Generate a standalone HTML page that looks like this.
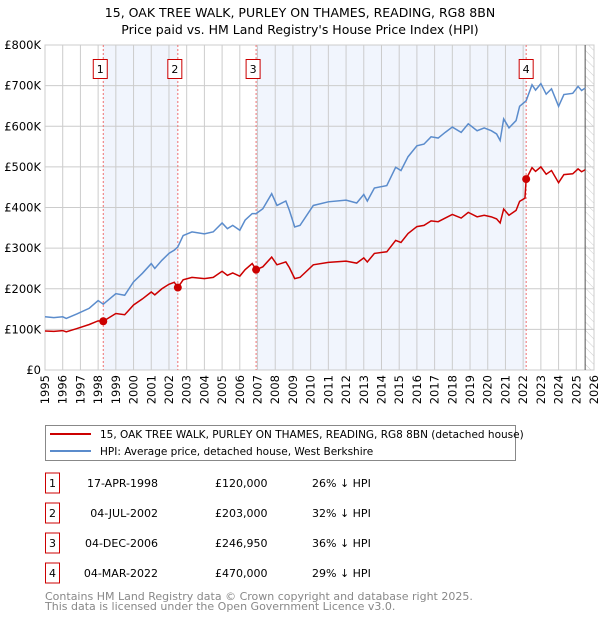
<!DOCTYPE html>
<html><head><meta charset="utf-8"><style>
body{margin:0;background:#fff;width:600px;height:620px;overflow:hidden}
text{font-family:"DejaVu Sans","Liberation Sans",sans-serif}
</style></head><body>
<svg id="c" width="600" height="620" xmlns="http://www.w3.org/2000/svg">
<defs><pattern id="hatch" width="6" height="6" patternUnits="userSpaceOnUse" patternTransform="rotate(-45)"><line x1="0" y1="0" x2="0" y2="6" stroke="#ccc" stroke-width="1"/></pattern></defs>
<text x="300" y="17" text-anchor="middle" font-size="12.5">15, OAK TREE WALK, PURLEY ON THAMES, READING, RG8 8BN</text>
<text x="300" y="34" text-anchor="middle" font-size="12.5">Price paid vs. HM Land Registry's House Price Index (HPI)</text>
<g id="plot"></g>
<g>
<rect x="45.5" y="425.5" width="470" height="35" fill="#fff" stroke="#888"/>
<line x1="50" y1="434" x2="91" y2="434" stroke="#cc0000" stroke-width="2"/>
<text x="100" y="438" font-size="10.5">15, OAK TREE WALK, PURLEY ON THAMES, READING, RG8 8BN (detached house)</text>
<line x1="50" y1="451" x2="91" y2="451" stroke="#5b8ccc" stroke-width="2"/>
<text x="100" y="455" font-size="10.5">HPI: Average price, detached house, West Berkshire</text>
</g>
<g id="table" font-size="11"></g>
<text x="45" y="600" font-size="11" fill="#888">Contains HM Land Registry data © Crown copyright and database right 2025.</text>
<text x="45" y="610" font-size="11" fill="#888">This data is licensed under the Open Government Licence v3.0.</text>
</svg>
<script>
const dates=[1995.0,1995.5,1996.0,1996.2,1996.8,1997.5,1998.0,1998.29,1999.0,1999.5,2000.0,2000.5,2001.0,2001.2,2001.6,2002.0,2002.3,2002.5,2002.8,2003.3,2004.0,2004.5,2005.0,2005.3,2005.6,2006.0,2006.3,2006.7,2006.92,2007.3,2007.8,2008.1,2008.6,2008.8,2009.1,2009.4,2010.15,2011.0,2012.0,2012.6,2013.0,2013.2,2013.6,2014.3,2014.8,2015.1,2015.5,2016.0,2016.4,2016.8,2017.2,2017.6,2018.0,2018.5,2018.9,2019.4,2019.8,2020.2,2020.5,2020.7,2020.9,2021.2,2021.6,2021.8,2022.1,2022.17,2022.5,2022.7,2023.0,2023.3,2023.6,2024.0,2024.3,2024.8,2025.1,2025.3,2025.5];
const hpi=[131,129,131,127,138,152,171,162,188,184,217,238,262,250,270,287,295,303,331,340,335,340,362,348,356,344,369,385,385,397,434,405,416,393,352,356,405,414,418,411,432,416,448,454,499,491,525,552,556,574,571,585,598,585,606,589,596,589,581,565,618,596,614,649,660,663,702,689,705,679,692,649,678,681,698,688,694];
const property=[96,95,97,94,102,112,121,120,139,136,160,175,192,185,200,211,216,203,222,228,225,228,243,233,239,231,247,262,247,254,278,259,266,252,225,228,259,265,268,263,276,266,287,291,319,314,336,353,356,367,365,374,383,374,388,377,381,377,372,362,396,381,393,415,423,470,498,489,500,482,491,461,481,483,495,488,493];
const saleNums=["1","2","3","4"];
const saleDates=[1998.29,2002.5,2006.92,2022.17];
const salePrices=[120000,203000,246950,470000];
const saleDateLabels=["17-APR-1998","04-JUL-2002","04-DEC-2006","04-MAR-2022"];
const salePriceLabels=["£120,000","£203,000","£246,950","£470,000"];
const saleHpiLabels=["26% ↓ HPI","32% ↓ HPI","36% ↓ HPI","29% ↓ HPI"];
const yTicks=[0,100,200,300,400,500,600,700,800];
const yTickLabels=["£0","£100K","£200K","£300K","£400K","£500K","£600K","£700K","£800K"];
const xTicks=[1995,1996,1997,1998,1999,2000,2001,2002,2003,2004,2005,2006,2007,2008,2009,2010,2011,2012,2013,2014,2015,2016,2017,2018,2019,2020,2021,2022,2023,2024,2025,2026];
const dataEnd=2025.5;

const L=45,R=594,T=45,B=370;
const X=y=>L+(y-1995)/(2026-1995)*(R-L);
const Y=v=>B-v/800*(B-T);
const NS="http://www.w3.org/2000/svg";
function mk(tag,attrs,parent){const e=document.createElementNS(NS,tag);for(const k in attrs)e.setAttribute(k,attrs[k]);parent.appendChild(e);return e;}
const plot=document.getElementById('plot');
for(let i=0;i<saleDates.length;i+=2){
  const x1=X(saleDates[i]),x2=i+1<saleDates.length?X(saleDates[i+1]):X(dataEnd);
  const r=mk('rect',{x:x1,y:T,width:x2-x1,height:B-T,fill:'#eef3fd',opacity:0.8},plot);
  
  
}
const h=mk('rect',{x:X(dataEnd),y:T,width:R-X(dataEnd),height:B-T,fill:'url(#hatch)'},plot);


xTicks.forEach(t=>{
  const g=mk('line',{x1:X(t),x2:X(t),y1:T,y2:B,stroke:'#ccc','stroke-width':1},plot);
  
  
  const tx=mk('text',{x:0,y:0,'font-size':11.5,'text-anchor':'end',transform:`translate(${X(t)+4},${B+5}) rotate(-90)`},plot);
  tx.textContent=t;
  
  
});
yTicks.forEach((t,i)=>{
  const g=mk('line',{x1:L,x2:R,y1:Y(t),y2:Y(t),stroke:'#ccc','stroke-width':1},plot);
  
  
  const tx=mk('text',{x:L-4,y:Y(t)+4,'font-size':11.5,'text-anchor':'end'},plot);
  tx.textContent=yTickLabels[i];
  
  
});
const bd=mk('rect',{x:L,y:T,width:R-L,height:B-T,fill:'none',stroke:'#ccc'},plot);


const el=mk('line',{x1:X(dataEnd),x2:X(dataEnd),y1:T,y2:B,stroke:'#555','stroke-width':1},plot);


saleDates.forEach((d,i)=>{
  const l=mk('line',{x1:X(d),x2:X(d),y1:T,y2:B,stroke:'#f07070','stroke-dasharray':'2,2'},plot);
  
  
  const bx=X(d)-(i<3?10:7);
  const r=mk('rect',{x:bx,y:59.5,width:14,height:19,fill:'#fff',stroke:'#cc0000'},plot);
  
  
  const t=mk('text',{x:bx+7,y:73,'font-size':11,'text-anchor':'middle'},plot);
  t.textContent=saleNums[i];
  
  
});
const pb=mk('polyline',{points:dates.map((d,i)=>X(d)+','+Y(hpi[i])).join(' '),fill:'none',stroke:'#5b8ccc','stroke-width':1.5},plot);


const pr=mk('polyline',{points:dates.map((d,i)=>X(d)+','+Y(property[i])).join(' '),fill:'none',stroke:'#cc0000','stroke-width':1.5},plot);


saleDates.forEach((d,i)=>{
  const c=mk('circle',{cx:X(d),cy:Y(salePrices[i]/1000),r:4,fill:'#cc0000'},plot);
  
  
});
const tb=document.getElementById('table');
saleNums.forEach((n,i)=>{
  const cy=483+i*30;
  const r=mk('rect',{x:45.5,y:cy-10,width:14,height:20,fill:'#fff',stroke:'#cc0000'},tb);
  
  
  const a=mk('text',{x:52.5,y:cy+4,'text-anchor':'middle'},tb);a.textContent=n;
  
  
  const b=mk('text',{x:158,y:cy+4,'text-anchor':'end'},tb);b.textContent=saleDateLabels[i];
  
  
  const c=mk('text',{x:215,y:cy+4},tb);c.textContent=salePriceLabels[i];
  
  
  const e=mk('text',{x:312,y:cy+4},tb);e.textContent=saleHpiLabels[i];
  
  
});
</script>
</body></html>
